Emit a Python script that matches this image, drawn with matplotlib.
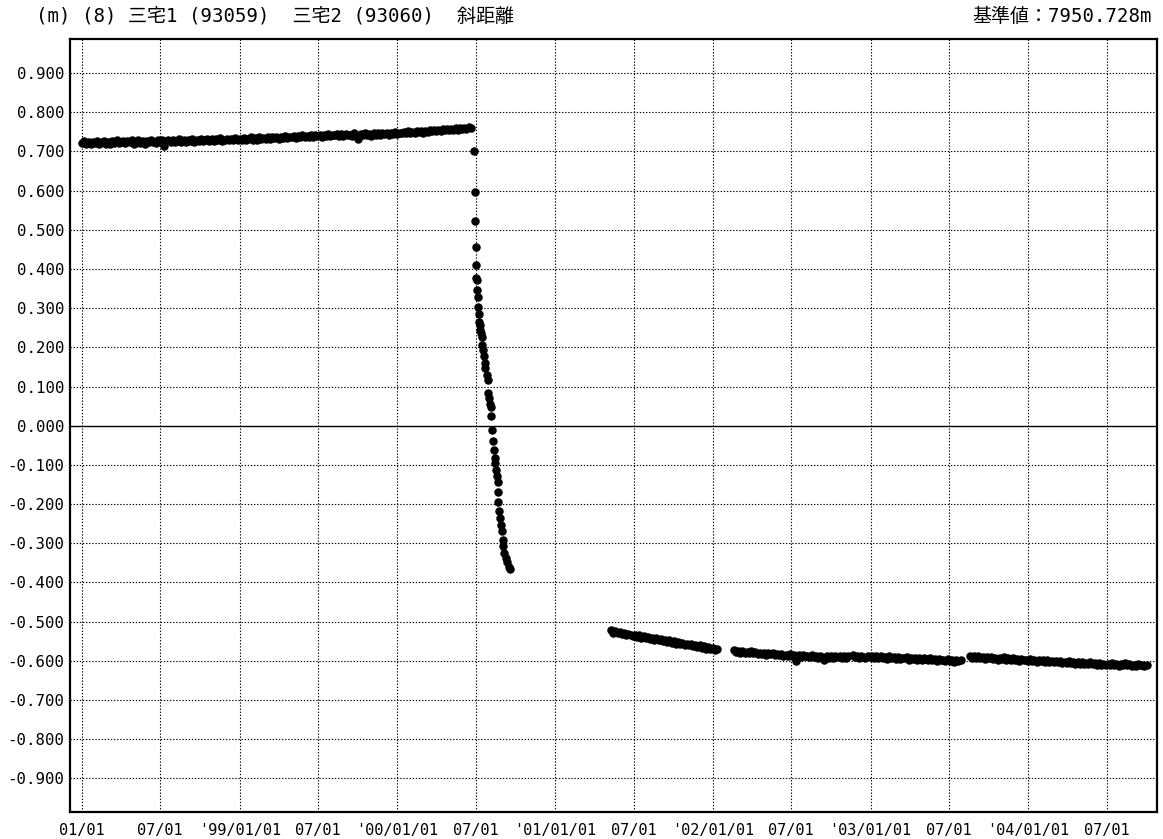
import numpy as np
import pandas as pd
import matplotlib
matplotlib.use("Agg")
import matplotlib.pyplot as plt

plt.rcParams['font.family'] = ['DejaVu Sans Mono', 'Noto Sans CJK JP', 'DejaVu Sans']

# ---- data (slope distance minus reference value, in millimetres) -------
# quiet period before the collapse: one reading every 5 days from 1998-01-01
pre_start = "1998-01-01"
pre_step_days = 5
pre_mm = [
    722, 726, 719, 724, 718, 725, 721, 727, 720, 723,
    727, 720, 725, 719, 726, 722, 728, 721, 724, 726,
    721, 727, 723, 729, 720, 725, 728, 722, 726, 719,
    727, 723, 729, 724, 721, 728, 725, 730, 713, 726,
    730, 724, 729, 723, 727, 731, 725, 729, 724, 730,
    726, 731, 725, 730, 727, 732, 726, 729, 733, 727,
    731, 726, 732, 728, 734, 727, 730, 733, 728, 732,
    729, 734, 728, 733, 730, 735, 729, 732, 736, 730,
    734, 730, 736, 731, 735, 733, 737, 731, 736, 734,
    738, 733, 737, 735, 739, 734, 738, 736, 740, 735,
    739, 737, 741, 736, 740, 738, 742, 737, 741, 739,
    743, 738, 742, 740, 744, 739, 743, 741, 745, 740,
    744, 739, 745, 741, 743, 740, 746, 742, 731, 744,
    741, 746, 742, 745, 740, 747, 743, 746, 742, 748,
    744, 748, 743, 747, 745, 749, 744, 748, 746, 750,
    746, 751, 748, 750, 747, 752, 749, 753, 748, 752,
    750, 754, 751, 755, 752, 756, 753, 757, 754, 758,
    755, 758, 754, 759, 756, 760, 757, 761, 758, 762,
    760,
]

# rapid shortening during the 2000 eruption
drop_dates = [
    "2000-06-27", "2000-06-28", "2000-06-29", "2000-06-30", "2000-07-01",
    "2000-07-02", "2000-07-03", "2000-07-04", "2000-07-05", "2000-07-06",
    "2000-07-07", "2000-07-08", "2000-07-10", "2000-07-11", "2000-07-12",
    "2000-07-14", "2000-07-15", "2000-07-17", "2000-07-19", "2000-07-21",
    "2000-07-23", "2000-07-26", "2000-07-28", "2000-07-29", "2000-07-31",
    "2000-08-02", "2000-08-05", "2000-08-06", "2000-08-08", "2000-08-10",
    "2000-08-11", "2000-08-13", "2000-08-15", "2000-08-17", "2000-08-18",
    "2000-08-20", "2000-08-21", "2000-08-22", "2000-08-23", "2000-08-26",
    "2000-08-27", "2000-08-31", "2000-09-01", "2000-09-02", "2000-09-04",
    "2000-09-08", "2000-09-12", "2000-09-16", "2000-09-18",
]
drop_mm = [
    700, 597, 523, 457, 411,
    378, 372, 347, 329, 304,
    286, 265, 258, 245, 237,
    227, 207, 194, 179, 161,
    148, 130, 117, 84, 71,
    56, 48, 26, -10, -38,
    -61, -82, -94, -112, -128,
    -143, -168, -194, -217, -235,
    -253, -268, -291, -306, -324,
    -337, -349, -360, -365,
]

# observations after the restart, every 5 days, in four runs separated by gaps
post_step_days = 5
post_a_start = "2001-05-10"
post_a_mm = [
    -522, -528, -525, -530, -527, -532, -529, -535, -531, -534,
    -537, -533, -539, -535, -541, -537, -543, -539, -545, -541,
    -546, -542, -548, -544, -550, -546, -552, -548, -554, -550,
    -556, -552, -558, -554, -559, -556, -561, -557, -563, -559,
    -565, -561, -567, -563, -569, -565, -571, -567, -572, -569,
]
post_b_start = "2002-02-18"
post_b_mm = [
    -573, -578, -575, -580, -576, -579, -577, -581, -576, -580,
    -578, -582, -579, -583, -580, -584, -579, -583, -581, -585,
    -582, -586, -583, -587, -584, -588, -583, -587, -585, -600,
    -586, -590, -585, -589, -587, -591, -586, -590, -588, -592,
    -587, -591, -598, -589, -592, -588, -593, -587, -591, -589,
    -593, -588, -592, -589,
]
post_c_start = "2002-11-20"
post_c_mm = [
    -586, -591, -587, -592, -588, -590, -593, -587, -591, -589,
    -592, -588, -594, -589, -593, -590, -595, -589, -594, -591,
    -595, -590, -596, -592, -594, -591, -597, -592, -596, -593,
    -597, -593, -598, -594, -596, -599, -594, -598, -595, -600,
    -596, -599, -597, -601, -596, -600, -598, -602, -597, -601,
    -599,
]
post_d_start = "2003-08-18"
post_d_mm = [
    -587, -592, -589, -594, -588, -593, -590, -595, -591, -594,
    -590, -595, -592, -597, -593, -596, -591, -597, -594, -598,
    -594, -599, -595, -600, -596, -599, -597, -601, -595, -600,
    -597, -602, -598, -601, -599, -603, -597, -602, -600, -604,
    -600, -604, -601, -605, -602, -606, -600, -605, -603, -607,
    -603, -607, -604, -608, -605, -609, -604, -608, -606, -610,
    -606, -610, -607, -611, -608, -612, -606, -611, -609, -613,
    -608, -612, -605, -611, -609, -614, -610, -613, -608, -612,
    -611, -614, -612,
]

y_ticks = [-0.9, -0.8, -0.7, -0.6, -0.5, -0.4, -0.3, -0.2, -0.1, 0.0,
           0.1, 0.2, 0.3, 0.4, 0.5, 0.6, 0.7, 0.8, 0.9]
x_tick_dates = ["1998-01-01", "1998-07-01", "1999-01-01", "1999-07-01",
                "2000-01-01", "2000-07-01", "2001-01-01", "2001-07-01",
                "2002-01-01", "2002-07-01", "2003-01-01", "2003-07-01",
                "2004-01-01", "2004-07-01"]
x_tick_labels = ["01/01", "07/01", "'99/01/01", "07/01", "'00/01/01", "07/01",
                 "'01/01/01", "07/01", "'02/01/01", "07/01", "'03/01/01", "07/01",
                 "'04/01/01", "07/01"]

title_left = "(m) (8) 三宅1 (93059)  三宅2 (93060)  斜距離"
title_right = "基準値：7950.728m"


def series(start, step, values_mm):
    dates = pd.date_range(start, periods=len(values_mm), freq=f"{step}D")
    return dates, np.asarray(values_mm, dtype=float) / 1000.0


runs = [
    series(pre_start, pre_step_days, pre_mm),
    (pd.to_datetime(drop_dates), np.asarray(drop_mm, dtype=float) / 1000.0),
    series(post_a_start, post_step_days, post_a_mm),
    series(post_b_start, post_step_days, post_b_mm),
    series(post_c_start, post_step_days, post_c_mm),
    series(post_d_start, post_step_days, post_d_mm),
]

# ---- figure -----------------------------------------------------------
fig = plt.figure(figsize=(11.63, 8.39), dpi=100)
ax = fig.add_axes([70 / 1163, 27 / 839, 1087 / 1163, 773 / 839])

grid_kw = dict(color="black", linewidth=0.8, linestyle=(0, (1.2, 1.6)), zorder=1)
for yt in y_ticks:
    if yt == 0.0:
        ax.axhline(0.0, color="black", linewidth=1.0, zorder=1)
    else:
        ax.axhline(yt, **grid_kw)
for xt in pd.to_datetime(x_tick_dates):
    ax.axvline(xt, **grid_kw)

for d, v in runs:
    ax.plot(d, v, linestyle="none", marker="o", markersize=6.1,
            color="black", markeredgewidth=0, zorder=3)

ax.set_xlim(pd.Timestamp("1997-12-04"), pd.Timestamp("2004-10-25"))
ax.set_ylim(-0.986, 0.987)

ax.set_yticks(y_ticks)
ax.set_yticklabels([f"{v:.3f}" if v != 0 else "0.000" for v in y_ticks])
ax.set_xticks(pd.to_datetime(x_tick_dates))
ax.set_xticklabels(x_tick_labels)
ax.tick_params(axis="both", length=0, colors="black")
ax.tick_params(axis="y", pad=4, labelsize=11.3)
ax.tick_params(axis="x", pad=8, labelsize=11)

for sp in ax.spines.values():
    sp.set_linewidth(1.6)
    sp.set_color("black")

fig.text(36 / 1163, 1 - 17 / 839, title_left, ha="left", va="center", fontsize=13.7)
fig.text(1152 / 1163, 1 - 17 / 839, title_right, ha="right", va="center", fontsize=13.7)

fig.savefig("out.png", dpi=100, facecolor="white")
